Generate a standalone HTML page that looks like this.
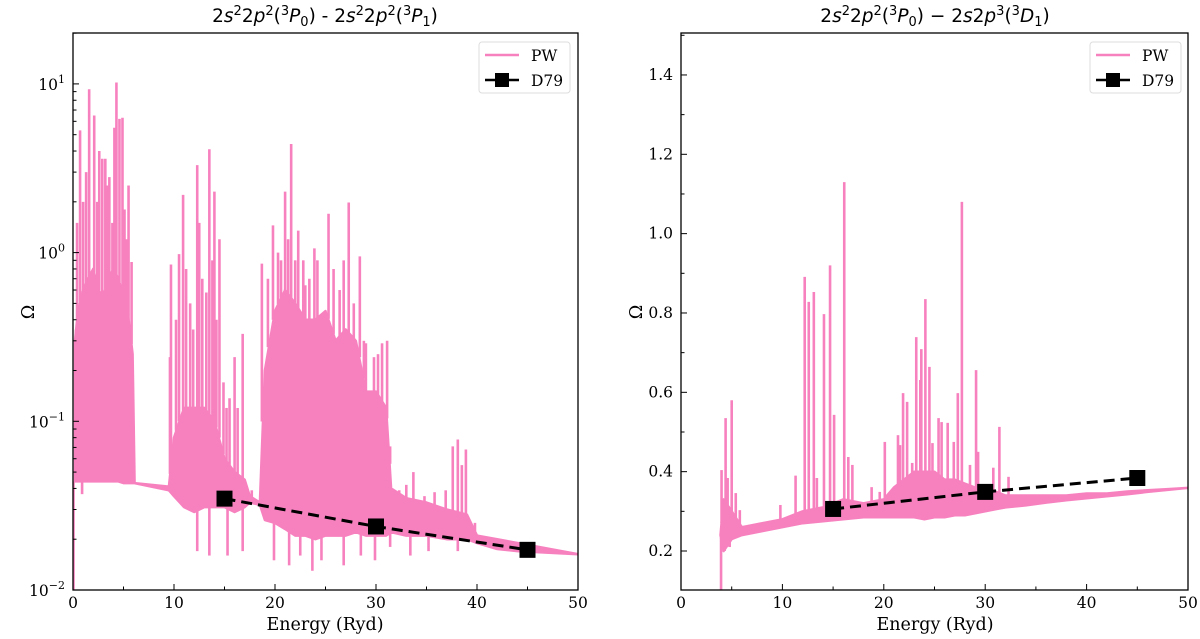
<!DOCTYPE html>
<html><head><meta charset="utf-8"><style>
html,body{margin:0;padding:0;background:#fff;}
svg{display:block;}
.tk{font-family:"DejaVu Serif","Liberation Serif",serif;font-size:15.5px;fill:#000;}
.ttl{font-family:"DejaVu Sans","Liberation Sans",sans-serif;font-size:18.5px;fill:#000;}
.lab{font-family:"DejaVu Serif","Liberation Serif",serif;font-size:17.5px;fill:#000;}
</style></head><body>
<svg id="fig" width="1200" height="639" viewBox="0 0 1200 639" xmlns="http://www.w3.org/2000/svg">
<text class="ttl" x="325" y="22" text-anchor="middle">2<tspan font-style="italic">s</tspan><tspan font-size="13" dy="-7">2</tspan><tspan dy="7">2</tspan><tspan font-style="italic">p</tspan><tspan font-size="13" dy="-7">2</tspan><tspan dy="7">(</tspan><tspan font-size="13" dy="-7">3</tspan><tspan font-style="italic" dy="7">P</tspan><tspan font-size="13" dy="4">0</tspan><tspan dy="-4">) - 2</tspan><tspan font-style="italic">s</tspan><tspan font-size="13" dy="-7">2</tspan><tspan dy="7">2</tspan><tspan font-style="italic">p</tspan><tspan font-size="13" dy="-7">2</tspan><tspan dy="7">(</tspan><tspan font-size="13" dy="-7">3</tspan><tspan font-style="italic" dy="7">P</tspan><tspan font-size="13" dy="4">1</tspan><tspan dy="-4">)</tspan></text>
<text class="ttl" x="935" y="22" text-anchor="middle">2<tspan font-style="italic">s</tspan><tspan font-size="13" dy="-7">2</tspan><tspan dy="7">2</tspan><tspan font-style="italic">p</tspan><tspan font-size="13" dy="-7">2</tspan><tspan dy="7">(</tspan><tspan font-size="13" dy="-7">3</tspan><tspan font-style="italic" dy="7">P</tspan><tspan font-size="13" dy="4">0</tspan><tspan dy="-4">) − 2</tspan><tspan font-style="italic">s</tspan>2<tspan font-style="italic">p</tspan><tspan font-size="13" dy="-7">3</tspan><tspan dy="7">(</tspan><tspan font-size="13" dy="-7">3</tspan><tspan font-style="italic" dy="7">D</tspan><tspan font-size="13" dy="4">1</tspan><tspan dy="-4">)</tspan></text>
<text class="lab" x="325" y="630" text-anchor="middle">Energy (Ryd)</text>
<text class="lab" x="935" y="630" text-anchor="middle">Energy (Ryd)</text>
<text class="lab" x="0" y="0" text-anchor="middle" transform="translate(34,312) rotate(-90)">Ω</text>
<text class="lab" x="0" y="0" text-anchor="middle" transform="translate(642,312) rotate(-90)">Ω</text>
<g id="L"></g><g id="R"></g>
</svg>
<script>
// ---------- Left panel data ----------
const leftBandE   = [0.2,0.5,1,1.5,2,2.5,3,3.5,4,4.5,5,5.5,5.9,6.1,9.5,10,11,12,13,14,15,16,17,17.5,18.5,19,20,21,22,23,24,25,26,27,28,29,30,31,31.5,33,35,37,39,40,42,44,50];
const leftBandTop = [0.3,0.45,0.6,0.7,0.8,0.6,0.55,0.7,0.8,0.7,0.55,0.4,0.25,0.043,0.041,0.08,0.12,0.12,0.12,0.1,0.06,0.05,0.045,0.036,0.033,0.2,0.45,0.6,0.5,0.4,0.4,0.45,0.3,0.35,0.3,0.15,0.15,0.12,0.04,0.035,0.033,0.03,0.028,0.021,0.02,0.019,0.0163];
const leftBandBot = [0.044,0.044,0.044,0.044,0.044,0.044,0.044,0.044,0.044,0.044,0.043,0.043,0.043,0.043,0.039,0.036,0.031,0.029,0.031,0.031,0.031,0.029,0.031,0.033,0.032,0.026,0.025,0.023,0.021,0.021,0.02,0.021,0.021,0.021,0.022,0.021,0.021,0.021,0.022,0.021,0.021,0.02,0.02,0.019,0.0175,0.017,0.0163];
const leftPeakE   = [0.3,0.4,0.7,1.0,1.3,1.6,2.1,2.4,2.6,2.9,3.2,3.4,3.6,3.9,4.1,4.3,4.6,4.9,5.1,5.3,5.5,5.8,9.6,9.7,10.2,10.5,10.9,11.2,11.6,11.9,12.3,12.5,12.8,13.2,13.5,13.8,14.0,14.2,14.5,14.9,15.2,15.5,16.0,16.3,16.8,17.7,18.7,19.3,19.8,20.3,20.6,21.0,21.3,21.6,22.0,22.3,22.8,23.0,23.4,23.9,24.2,24.5,25.3,25.8,26.4,26.8,27.3,27.8,28.4,28.8,29.0,29.8,30.2,30.6,31.1,31.4,32.3,33.0,33.7,34.8,35.8,36.9,37.6,38.1,38.5,38.9,39.8,40.3];
const leftPeakV   = [0.3,1.5,5.3,2.0,3.0,9.3,6.5,2.0,4.0,3.6,3.6,2.5,2.8,1.5,5.5,10.2,6.2,6.3,1.8,1.2,2.5,0.88,0.24,0.85,0.4,0.98,2.2,0.8,0.5,0.35,3.3,1.5,0.7,0.58,4.1,0.9,2.3,0.4,1.2,0.17,0.12,0.137,0.24,0.12,0.33,0.039,0.86,0.7,1.45,1.0,0.9,2.3,1.2,4.4,0.9,1.35,0.9,0.64,0.7,1.06,0.9,0.23,1.7,0.8,0.6,0.9,1.98,0.5,0.95,0.3,0.29,0.24,0.25,0.29,0.30,0.071,0.039,0.042,0.05,0.036,0.038,0.039,0.071,0.078,0.055,0.068,0.025,0.02];
const leftDipE    = [0.05,0.9,12.3,13.5,15.3,16.8,19.9,21.4,22.5,23.7,24.6,26.8,28.5,29.9,31.4,33.4,35.2,38.1];
const leftDipV    = [0.01,0.037,0.017,0.016,0.016,0.017,0.015,0.014,0.016,0.013,0.015,0.014,0.016,0.015,0.018,0.016,0.017,0.017];
const leftD79E    = [15,30,45];
const leftD79V    = [0.0348,0.0238,0.0173];
const leftXTicks  = [0,10,20,30,40,50];
const leftYTickExp= [-2,-1,0,1];

// ---------- Right panel data ----------
const rightBandE   = [3.9,4.2,5,6,8,10,12,14,16,18,20,21,22,23,24,25,26,27,28,29,30,31,32,34,36,38,40,42,44,46,48,50];
const rightBandTop = [0.24,0.33,0.30,0.26,0.27,0.28,0.30,0.31,0.33,0.32,0.33,0.36,0.38,0.40,0.40,0.40,0.38,0.38,0.37,0.36,0.36,0.35,0.34,0.34,0.34,0.34,0.345,0.345,0.35,0.353,0.356,0.359];
const rightBandBot = [0.24,0.20,0.23,0.24,0.25,0.26,0.27,0.275,0.28,0.285,0.285,0.285,0.285,0.285,0.28,0.285,0.285,0.29,0.29,0.295,0.3,0.305,0.31,0.315,0.322,0.328,0.333,0.338,0.343,0.349,0.354,0.359];
const rightPeakE   = [4.0,4.4,4.6,5.0,5.4,5.8,9.8,11.3,12.2,12.6,13.1,13.4,14.1,14.7,15.1,16.1,16.5,16.9,18.8,19.6,20.1,21.4,21.6,21.9,22.3,22.8,23.2,23.6,23.7,24.1,24.5,24.8,25.4,25.7,26.3,26.9,27.3,27.7,28.5,29.1,29.3,30.8,31.4,32.3];
const rightPeakV   = [0.404,0.535,0.384,0.58,0.346,0.303,0.316,0.39,0.891,0.828,0.853,0.384,0.797,0.92,0.543,1.13,0.437,0.417,0.361,0.349,0.475,0.492,0.467,0.598,0.576,0.422,0.739,0.631,0.709,0.835,0.664,0.472,0.535,0.525,0.523,0.475,0.598,1.08,0.417,0.656,0.45,0.41,0.513,0.387];
const rightDipE    = [3.95,4.3,4.8];
const rightDipV    = [0.1,0.2,0.21];
const rightD79E    = [15,30,45];
const rightD79V    = [0.306,0.349,0.384];
const rightXTicks  = [0,10,20,30,40,50];
const rightYTicks  = [0.2,0.4,0.6,0.8,1.0,1.2,1.4];

const NS='http://www.w3.org/2000/svg';
const PINK='#f781bf';
function mk(parent,tag,attrs){const e=document.createElementNS(NS,tag);for(const k in attrs)e.setAttribute(k,attrs[k]);parent.appendChild(e);return e;}
function interp(xs,ys,x){if(x<=xs[0])return ys[0];for(let i=1;i<xs.length;i++){if(x<=xs[i]){const t=(x-xs[i-1])/(xs[i]-xs[i-1]);return ys[i-1]+t*(ys[i]-ys[i-1]);}}return ys[ys.length-1];}

function panel(g,cfg){
  const {x0,x1,y0,y1,sx,sy}=cfg;
  const clipId='clip'+cfg.id;
  const defs=mk(g,'defs',{});
  const cp=mk(defs,'clipPath',{id:clipId});
  mk(cp,'rect',{x:x0,y:y0,width:x1-x0,height:y1-y0});
  const plot=mk(g,'g',{'clip-path':'url(#'+clipId+')'});
  
  
  let pts=[];
  cfg.bandE.forEach((e,i)=>pts.push(sx(e).toFixed(1)+','+sy(cfg.bandTop[i]).toFixed(1)));
  for(let i=cfg.bandE.length-1;i>=0;i--)pts.push(sx(cfg.bandE[i]).toFixed(1)+','+sy(cfg.bandBot[i]).toFixed(1));
  const band=mk(plot,'polygon',{points:pts.join(' '),fill:PINK,stroke:PINK,'stroke-width':2.5,'stroke-linejoin':'round'});
  
  
  cfg.peakE.forEach((e,i)=>{
    const b=interp(cfg.bandE,cfg.bandTop,e);
    const l=mk(plot,'line',{x1:sx(e),x2:sx(e),y1:sy(b),y2:sy(cfg.peakV[i]),stroke:PINK,'stroke-width':2.6});
    
    
  });
  cfg.dipE.forEach((e,i)=>{
    const b=interp(cfg.bandE,cfg.bandBot,e);
    const l=mk(plot,'line',{x1:sx(e),x2:sx(e),y1:sy(b),y2:sy(cfg.dipV[i]),stroke:PINK,'stroke-width':2.6});
    
    
  });
  const dp=cfg.d79E.map((e,i)=>sx(e)+','+sy(cfg.d79V[i])).join(' ');
  const dl=mk(g,'polyline',{points:dp,fill:'none',stroke:'#000','stroke-width':3,'stroke-dasharray':'11,6'});
  
  
  cfg.d79E.forEach((e,i)=>{
    const r=mk(g,'rect',{x:sx(e)-8,y:sy(cfg.d79V[i])-8,width:16,height:16,fill:'#000'});
    
    
  });
  const fr=mk(g,'rect',{x:x0,y:y0,width:x1-x0,height:y1-y0,fill:'none',stroke:'#000','stroke-width':1.3});
  
  
  for(let v=0;v<=50;v+=5){
    const major=(v%10===0);
    mk(g,'line',{x1:sx(v),x2:sx(v),y1:y1,y2:y1-(major?6:3.5),stroke:'#000','stroke-width':1});
  }
  cfg.xTicks.forEach(v=>{
    const t=mk(g,'text',{x:sx(v),y:y1+18,'text-anchor':'middle',class:'tk'});
    t.textContent=String(v);
    
    
  });
  cfg.yTicks(g);
  const lx=cfg.legX, ly=y0+9;
  const lg=mk(g,'g',{});
  
  
  mk(lg,'rect',{x:lx,y:ly,width:91,height:51,rx:3,fill:'#fff',stroke:'#ddd','stroke-width':1});
  const e1=mk(lg,'line',{x1:lx+6,x2:lx+40,y1:ly+13,y2:ly+13,stroke:PINK,'stroke-width':2.6});
  
  
  const t1=mk(lg,'text',{x:lx+52,y:ly+19,class:'tk'});t1.textContent='PW';
  const e2=mk(lg,'line',{x1:lx+6,x2:lx+40,y1:ly+38,y2:ly+38,stroke:'#000','stroke-width':2.6});
  
  
  mk(lg,'rect',{x:lx+16,y:ly+31,width:14,height:14,fill:'#000'});
  const t2=mk(lg,'text',{x:lx+52,y:ly+44,class:'tk'});t2.textContent='D79';
}

(function(){
  const x0=73,x1=578,y0=33,y1=590;
  const dec=168.7;
  const sx=e=>x0+(e/50)*(x1-x0);
  const sy=v=>y1-(Math.log10(v)+2)*dec;
  panel(document.getElementById('L'),{id:'L',x0,x1,y0,y1,sx,sy,
    bandE:leftBandE,bandTop:leftBandTop,bandBot:leftBandBot,peakE:leftPeakE,peakV:leftPeakV,
    dipE:leftDipE,dipV:leftDipV,d79E:leftD79E,d79V:leftD79V,xTicks:leftXTicks,legX:479,
    yTicks:function(g){
      for(let p=-2;p<=1;p++){for(let m=1;m<=9;m++){const v=m*Math.pow(10,p);const y=sy(v);if(y<y0)continue;
        mk(g,'line',{x1:x0,x2:x0+(m===1?6:3.5),y1:y,y2:y,stroke:'#000','stroke-width':1});}}
      leftYTickExp.forEach(p=>{
        const t=mk(g,'text',{x:x0-8,y:sy(Math.pow(10,p))+6,'text-anchor':'end',class:'tk'});
        
        
        t.textContent='10';
        const s=mk(t,'tspan',{dy:-7,'font-size':'11'});s.textContent=(p<0?'\u2212':'')+Math.abs(p);
      });
    }});
})();
(function(){
  const x0=681,x1=1188,y0=33,y1=590;
  const sx=e=>x0+(e/50)*(x1-x0);
  const sy=v=>551-(v-0.2)*396.7;
  panel(document.getElementById('R'),{id:'R',x0,x1,y0,y1,sx,sy,
    bandE:rightBandE,bandTop:rightBandTop,bandBot:rightBandBot,peakE:rightPeakE,peakV:rightPeakV,
    dipE:rightDipE,dipV:rightDipV,d79E:rightD79E,d79V:rightD79V,xTicks:rightXTicks,legX:1090,
    yTicks:function(g){
      for(let k=1;k<=15;k++){const v=k/10;const y=sy(v);if(y<y0||y>y1)continue;const major=(k%2===0);
        mk(g,'line',{x1:x0,x2:x0+(major?6:3.5),y1:y,y2:y,stroke:'#000','stroke-width':1});}
      rightYTicks.forEach(v=>{
        const t=mk(g,'text',{x:x0-8,y:sy(v)+5,'text-anchor':'end',class:'tk'});
        
        
        t.textContent=v.toFixed(1);
      });
    }});
})();
</script>
</body></html>
